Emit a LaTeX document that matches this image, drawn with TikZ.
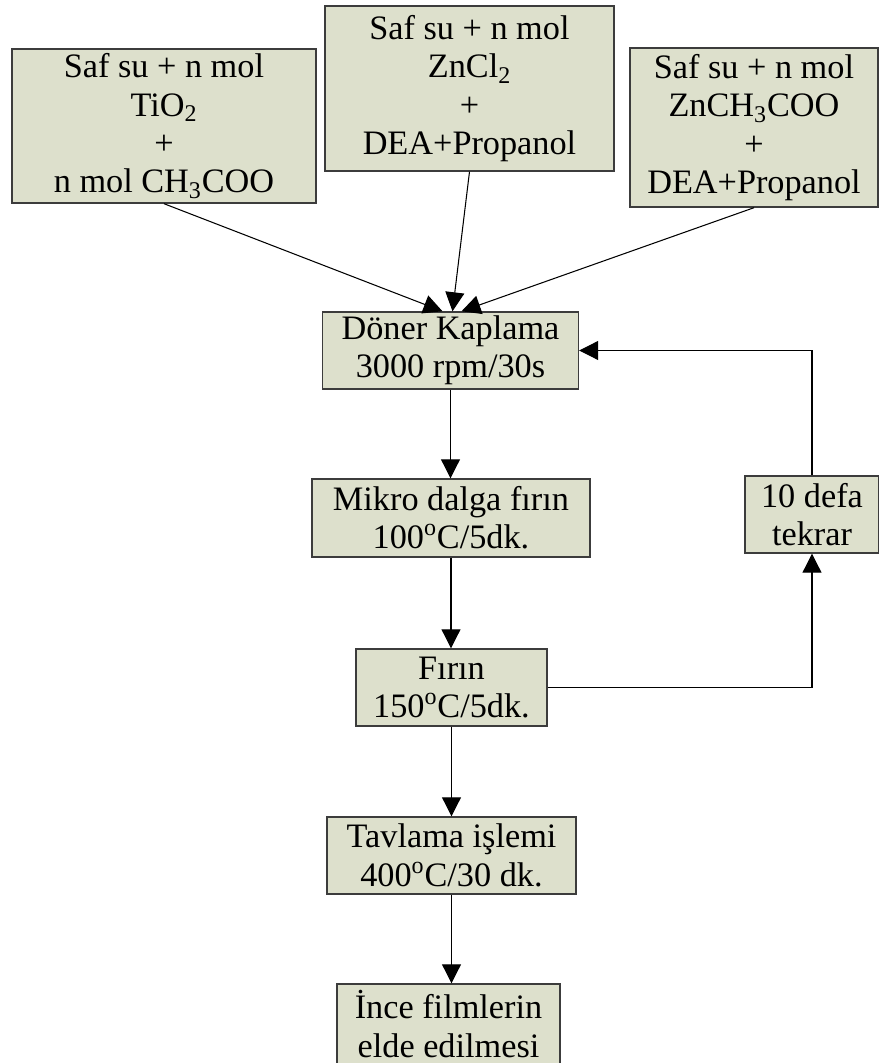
\documentclass[tikz,border=0pt]{standalone}
\usepackage{fontspec}
\setmainfont{Liberation Serif}
\usepackage{tikz}
\usetikzlibrary{arrows.meta,positioning,calc}
\definecolor{boxfill}{RGB}{221,224,204}
\definecolor{boxline}{RGB}{60,60,60}

\begin{document}
\begin{tikzpicture}[
    stage/.style={draw=boxline, fill=boxfill, line width=0.8pt, inner sep=0pt, align=center,
        font=\fontsize{19.5}{21.8}\selectfont},
    flow/.style={-{Triangle[length=0.38cm,width=0.38cm]}, line width=0.6pt}
  ]
    \useasboundingbox (0,0) rectangle (17.58,21.26);

    % Starting solutions
    \node[stage, minimum width=6.08cm, minimum height=3.08cm] (tio) at (3.28, 18.74)
        {Saf su + n mol\\TiO\textsubscript{2}\\+\\n mol CH\textsubscript{3}COO};
    \node[stage, minimum width=5.78cm, minimum height=3.3cm] (zncl) at (9.39, 19.49)
        {Saf su + n mol\\ZnCl\textsubscript{2}\\+\\DEA+Propanol};
    \node[stage, minimum width=4.96cm, minimum height=3.18cm] (znac) at (15.08, 18.71)
        {Saf su + n mol\\ZnCH\textsubscript{3}COO\\+\\DEA+Propanol};

    % Process steps
    \node[stage, minimum width=5.12cm, minimum height=1.54cm] (doner) at (9.01, 14.25)
        {Döner Kaplama\\3000 rpm/30s};
    \node[stage, minimum width=5.56cm, minimum height=1.56cm] (mikro) at (9.02, 10.9)
        {Mikro dalga fırın\\100\textsuperscript{o}C/5dk.};
    \node[stage, minimum width=2.68cm, minimum height=1.54cm] (tekrar) at (16.24, 10.97)
        {10 defa\\tekrar};
    \node[stage, minimum width=3.82cm, minimum height=1.54cm] (firin) at (9.03, 7.51)
        {Fırın\\150\textsuperscript{o}C/5dk.};
    \node[stage, minimum width=4.98cm, minimum height=1.54cm] (tavlama) at (9.03, 4.15)
        {Tavlama işlemi\\400\textsuperscript{o}C/30 dk.};
    \node[stage, minimum width=4.46cm, minimum height=1.6cm] (film) at (8.97, 0.78)
        {İnce filmlerin\\elde edilmesi};

    \draw[flow] (tio.south) -- ([xshift=-0.16cm]doner.north);
    \draw[flow] (zncl.south) -- ([xshift=0.04cm]doner.north);
    \draw[flow] (znac.south) -- ([xshift=0.22cm]doner.north);

    \draw[flow] (doner.south) -- (doner.south |- mikro.north);
    \draw[flow] (mikro.south) -- (mikro.south |- firin.north);
    \draw[flow] (firin.south) -- (firin.south |- tavlama.north);
    \draw[flow] (tavlama.south) -- (tavlama.south |- film.north);

    % Repeat loop
    \draw[flow] (firin.east) -| (tekrar.south);
    \draw[flow] (tekrar.north) |- (doner.east);
\end{tikzpicture}
\end{document}
